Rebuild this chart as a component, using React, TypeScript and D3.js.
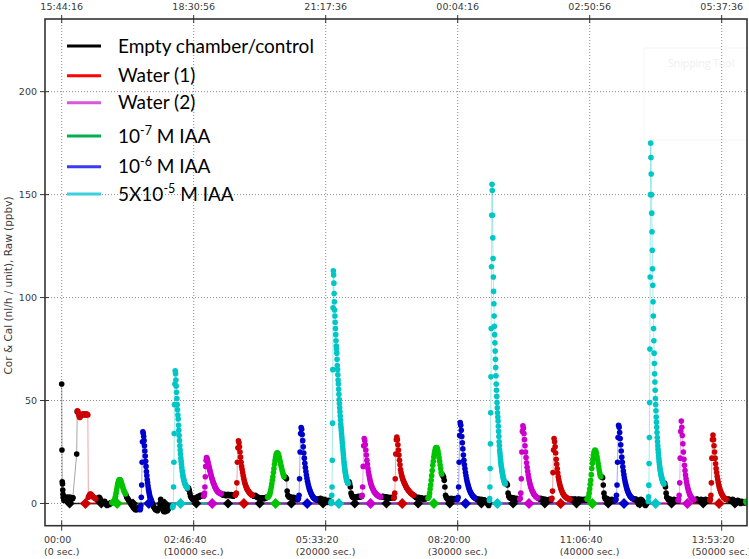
import React from 'react';
import * as d3 from 'd3';

type Seg = { t0?: number; dt?: number; t?: number[]; v: number[] };

// ---------- DATA (time in seconds, value in nl/h / ppbv) ----------
const controlSegs: Seg[] = [
  { t0: 0, dt: 20, v: [58, 26, 10.5, 9.5, 6.5, 4.5, 3, 2.5, 2, 1.5, 2.5, 3, 2.5, 2, 1.5, 2, 2.5, 3, 2.5, 2, 2.5, 3, 2.8, 2.2, 2, 2.5, 3, 2.5, 2, 2.6, 3, 2.4, 2, 2.5, 3, 2.6, 2.2, 2.5, 2.8, 2.4, 2.2, 2.5, 2.8] },
  { t: [840, 1136, 1175], v: [2.8, 24, 44.5] },
  { t0: 2600, dt: 60, v: [2.5, 2, 1.5, 2, 3, 2.5, 1.5, 1, 0.5, 0, 0.5, 1, 0, -0.5, -1, -0.5, 0, -0.5, 0, 0.5, 0.3] },
  { t0: 4880, dt: 50, v: [4, 3, 2.5, 2, 1.5, 1, 0.5, 0, -0.5, -1, -1.5, -2, -2.5, -2.5, -3, -2.5, -3, -2.5, -2, -2.5, -2] },
  { t0: 6850, dt: 50, v: [0.5, -0.5, -1.5, -2, -2.5, -3, -2.5, -3, -3.5, -3, -2.5, -2, 0, 2, 1, -1, -2.5, -3.5, -4, -3.5, -4, -3.5, -3, -3.5, -3, -2.5, -2, -1.5] },
  { t0: 9560, dt: 50, v: [7, 7.5, 6.5, 5, 3.5, 3, 2.5, 2, 2.5, 2, 1.5, 2, 2.5, 3, 2.5, 3, 3.5, 3, 3.5, 4, 3.5, 4] },
  { t0: 12100, dt: 50, v: [4.7, 4.5, 4.2, 4, 4.3, 4.5, 4, 3.8, 4, 4.2, 4.5, 4.2, 4, 3.8, 4, 4.3, 4, 3.7, 3.5, 4, 4.2] },
  { t0: 14470, dt: 50, v: [4, 3.8, 3.5, 3.7, 4, 3.5, 3.2, 3, 2.8, 3, 2.5, 2.8, 2.5, 2.2, 2.5, 2.8, 2.5, 2.2, 2.5, 2.8, 3, 2.8, 3] },
  { t0: 16880, dt: 50, v: [13, 12.8, 12.5, 12, 6, 4, 3.5, 3, 3.2, 3, 2.8, 3, 2.5, 2.8, 3, 2.5, 2.2, 2.5, 2, 2.2, 2] },
  { t0: 19260, dt: 50, v: [2, 1.8, 2.2, 2, 1.5, 1.8, 2.2, 2.5, 2, 1.5, 1, 1.5, 2, 1.8, 1.5, 1.2, 1.5, 1, 0.5, 1, 1.5, 1] },
  { t0: 21720, dt: 50, v: [10, 10.5, 9.5, 8, 5, 4, 3.2, 3, 2.8, 3, 3.2, 3, 2.8, 3, 3.2, 3.5, 3.3, 3, 3.2, 3.5, 3.4] },
  { t0: 24200, dt: 50, v: [3.2, 3, 3.3, 3.5, 3.2, 3, 2.8, 3, 3.2, 3, 2.7, 2.5, 2.8, 3, 2.7, 2.5, 2.8, 3, 2.6, 2.5] },
  { t0: 26700, dt: 50, v: [3.8, 3.5, 3.2, 3, 2.8, 2.5, 2.8, 3, 2.5, 2.2, 2.5, 2.8, 2.5, 2.2, 2, 2.3, 2.5, 2.2, 2.4, 2.6, 2.5] },
  { t0: 28830, dt: 50, v: [14, 13.5, 12.8, 11.3, 8, 4, 3, 2.5, 2, 2.5, 2.2, 2, 1.8, 2.2, 2.5, 2, 1.8, 2, 2.2, 2.4, 2, 2.2, 2] },
  { t0: 31350, dt: 50, v: [2.5, 2.2, 2, 1.8, 2, 2.2, 1.8, 1.5, 1.8, 2, 1.5, 1.2, 1.5, 1.8, 1.5, 1, 0.8, 0.5, 0, -0.5, -1, 0.5] },
  { t0: 33620, dt: 50, v: [10, 9.8, 9.5, 9, 5, 3.5, 3, 2.5, 3, 2.5, 2.2, 2.5, 2.8, 2.5, 2.2, 2, 2.3, 2.5, 2.2, 2, 2.2] },
  { t0: 36100, dt: 50, v: [2.5, 2.4, 2.2, 2, 2.5, 2.2, 1.8, 2, 2.2, 1.8, 1.5, 2, 1.8, 1.5, 1.2, 1.5, 1.8, 2, 1.7, 1.5] },
  { t0: 38540, dt: 50, v: [2, 1.8, 2, 2.2, 1.8, 1.5, 2, 2.2, 2, 1.8, 1.5, 1.8, 2, 2.2, 1.8, 1.5, 1.8, 2, 1.7, 1.5, 1.8, 2, 1.8, 1.6, 2] },
  { t0: 40880, dt: 50, v: [13, 12.8, 12.5, 9, 5, 3, 2.2, 2, 2.5, 2, 1.5, 2, 1.8, 1.5, 1.2, 1.5, 2, 1.8, 1.5, 1.2, 1.5] },
  { t0: 43270, dt: 50, v: [2.4, 2.2, 2, 1.8, 2.2, 2, 1.5, 1, 0, -0.5, 0.5, 1.5, 2, 1.8, 1.5, 1, 0.5, 0, -0.5, -1, -0.5, 0, 0.5] },
  { t0: 45640, dt: 50, v: [10, 9.5, 8, 5, 3, 2.6, 2, 1.8, 2, 2.2, 1.8, 1.5, 1, 1.5, 1.8, 2, 1.6, 1.2, 1.5, 1.8, 1.5, 1.2] },
  { t0: 47940, dt: 50, v: [1.8, 1.6, 1.5, 2, 2.2, 1.8, 1.5, 1.2, 1.5, 1.8, 2, 1.8, 1.5, 1.2, 1, 1.5, 1.8, 2, 1.8, 1.5, 1.2, 1.5, 1.8, 1.5] },
  { t0: 50380, dt: 50, v: [2, 1.8, 2, 2.2, 1.8, 1.5, 1.2, 1.5, 1.8, 2, 1.6, 1.3, 1, 0.5, 0, 0.5, 1, 1.5, 1.2, 1, 0.5, 0, 0.5, 1, 0.8, 0.5, 0.2, 0.5, 0.8, 0.5, 0.3] },
];

const water1Segs: Seg[] = [
  { t0: 1180, dt: 40, v: [45, 44.8, 44, 43, 42, 41.8, 42.3, 43, 43.2, 43, 43.3, 43.5, 43, 43.2, 43.4, 43, 43.2, 43.5, 43, 43.3, 43, 3, 3.5, 4, 4.5, 4.6, 4.4, 4, 3.8, 3.5, 3.2, 3, 2.8, 2.5, 2.5, 2.2] },
  { t0: 13150, dt: 40, v: [4, 4.5, 5, 10, 20, 27, 30.4, 29.5, 27.5, 25, 22.5, 20, 18, 16.5, 15, 13.5, 12.2, 11, 10, 9.2, 8.5, 7.8, 7.2, 6.7, 6.3, 5.9, 5.5, 5.2, 4.9, 4.6, 4.4, 4.2, 4] },
  { t0: 25150, dt: 40, v: [2.5, 3, 5, 12, 24, 31, 32.3, 31, 28.5, 26, 23.5, 21, 18.8, 16.5, 15, 13.8, 12.8, 12, 11.3, 10.6, 10, 9.4, 8.9, 8.4, 7.9, 7.4, 7, 6.6, 6.3, 6, 5.7, 5.4, 5.1, 4.9, 4.7, 4.5, 4.3, 4.1, 4] },
  { t0: 37100, dt: 40, v: [2, 2.5, 6, 15, 26, 31.5, 30, 27.5, 24.5, 21.5, 19, 16.8, 14.8, 13, 11.5, 10.2, 9.1, 8.1, 7.2, 6.5, 5.8, 5.2, 4.7, 4.3, 3.9, 3.6, 3.3, 3.1, 2.9, 2.7, 2.5, 2.4, 2.3, 2.2, 2.1, 2] },
  { t0: 49100, dt: 40, v: [1.5, 2, 4, 10, 22, 31, 33.2, 31, 28, 25, 22, 19.3, 17, 15, 13.2, 11.6, 10.2, 9, 7.9, 7, 6.2, 5.5, 4.9, 4.4, 3.9, 3.5, 3.1, 2.8, 2.5, 2.3, 2.1, 2] },
];

const water2Segs: Seg[] = [
  { t0: 10760, dt: 30, v: [3.5, 4, 5, 8, 13, 18, 21, 22.3, 22, 21.3, 20.5, 19.7, 18.8, 18, 17.2, 16.4, 15.6, 14.8, 14, 13.3, 12.6, 12, 11.4, 10.8, 10.2, 9.7, 9.2, 8.7, 8.2, 7.8, 7.4, 7, 6.7, 6.4, 6.1, 5.9, 5.7, 5.5, 5.3, 5.2, 5.1, 5, 4.9, 4.8, 4.7] },
  { t0: 22720, dt: 40, v: [3.5, 4, 8, 18, 28, 31.5, 30.5, 28.5, 26, 23.5, 21, 19, 17, 15.3, 13.8, 12.4, 11.2, 10.1, 9.2, 8.4, 7.7, 7.1, 6.6, 6.1, 5.7, 5.3, 5, 4.7, 4.4, 4.2, 4, 3.8, 3.6, 3.5, 3.4, 3.3, 3.2] },
  { t0: 34700, dt: 40, v: [2, 2.5, 5, 12, 25, 35, 37.7, 36.5, 34, 31, 28, 25, 22.3, 19.8, 17.6, 15.6, 13.9, 12.4, 11.1, 9.9, 8.9, 8, 7.2, 6.5, 5.9, 5.4, 4.9, 4.5, 4.1, 3.8, 3.5, 3.2, 3, 2.8, 2.6] },
  { t0: 46700, dt: 40, v: [1.5, 2, 4, 10, 22, 35, 40, 37, 33, 29, 25, 21.5, 18.5, 16, 13.8, 12, 10.4, 9, 7.8, 6.8, 5.9, 5.1, 4.4, 3.8, 3.3, 2.9, 2.6, 2.3, 2.1, 1.9, 1.8] },
];

const iaa7Segs: Seg[] = [
  { t0: 3800, dt: 40, v: [0.5, 0.3, 0.5, 0.8, 1, 1.5, 2.5, 3.5, 5, 6.5, 8, 9.3, 10.3, 11, 11.5, 11.6, 11.4, 11, 10.2, 9.3, 8.5, 7.6, 6.8, 6, 5.5, 5, 4.6] },
  { t0: 15600, dt: 40, v: [3, 3.2, 3.5, 4, 4.5, 5.5, 6.5, 8, 9.5, 11.3, 13, 15, 17, 19, 20.8, 22.3, 23.5, 24.2, 24.6, 24.5, 24, 23.3, 22.3, 21.2, 20, 18.8, 17.8, 16.7, 15.6, 14.6, 13.8, 13] },
  { t0: 27750, dt: 40, v: [2.5, 3, 3.5, 5, 7, 9, 11.3, 13.5, 16, 18.5, 20.5, 22.6, 24.2, 25.5, 26.5, 27, 27.2, 27, 26.3, 25.2, 23.8, 22.2, 20.5, 18.7, 16.8, 15, 14.3] },
  { t0: 39800, dt: 40, v: [2, 2.3, 2.8, 3.5, 5, 7, 9.2, 11.3, 14, 17, 19.5, 21.5, 23.3, 24.6, 25.5, 25.9, 25.7, 25, 24, 22.6, 21, 19.4, 17.8, 16.2, 14.7, 13.5, 13] },
  { t0: 51830, dt: 40, v: [1, 0.5, 0.8] },
];

const iaa6Segs: Seg[] = [
  { t0: 5940, dt: 30, v: [-3, -2.5, -1, 3, 9, 20, 30, 34.8, 34, 32.5, 30.5, 28, 25.5, 23, 20.5, 18, 15.5, 13.5, 11.5, 10, 8.5, 7, 6, 5, 4, 3, 2.5, 2, 1.5, 1] },
  { t0: 17900, dt: 40, v: [2, 2.5, 4, 12, 25, 34, 36.9, 36, 33.5, 30.5, 27.5, 24.5, 22, 19.5, 17.5, 15.5, 13.8, 12.2, 10.8, 9.6, 8.5, 7.5, 6.7, 6, 5.3, 4.7, 4.2, 3.7, 3.3, 3, 2.7, 2.4, 2.2, 2] },
  { t0: 29950, dt: 40, v: [2, 2, 3, 8, 20, 33, 39.3, 38, 35.5, 32.5, 29.5, 26.5, 23.5, 21, 18.8, 16.8, 15, 13.4, 12, 10.8, 9.7, 8.7, 7.8, 7, 6.3, 5.7, 5.2, 4.7, 4.3, 3.9, 3.6, 3.3, 3, 2.8, 2.6] },
  { t0: 41950, dt: 40, v: [1.5, 2, 4, 9, 20, 32, 38, 37, 34.5, 31.5, 28.5, 25.5, 22.5, 20, 17.8, 15.8, 14, 12.4, 11, 9.8, 8.7, 7.7, 6.8, 6.1, 5.4, 4.8, 4.3, 3.9, 3.5, 3.2, 2.9, 2.6, 2.4] },
];

const iaa5Segs: Seg[] = [
  { t0: 8400, dt: 25, v: [-2, -1.5, -1, 8, 20, 34, 48, 58, 64.4, 63, 60, 57, 54, 51, 48, 45.5, 43, 41, 38, 35.5, 33, 30.5, 28, 26, 24, 22, 20.5, 19, 17.5, 16, 15, 14, 13, 12.2, 11.5, 10.9, 10.3, 9.8, 9.4, 9, 8.7, 8.4, 8.1, 7.9, 7.7, 7.5] },
  { t0: 20400, dt: 20, v: [0.5, 0, 1, 4, 8, 21, 39, 65, 95, 113, 111, 107, 102, 98, 94, 91, 88, 85, 82, 79, 76.5, 75, 73, 70, 67, 65, 62.5, 60, 58, 55.5, 53, 50.5, 48.5, 46.5, 44.5, 42.5, 40.5, 38.5, 37, 35.5, 34, 32.5, 31, 29.5, 28, 26.5, 25, 23.5, 22, 20.5, 19.3, 18.2, 17.1, 16.1, 15.2, 14.4, 13.7, 13, 12.4, 11.8, 11.3, 10.9, 10.5, 10.2, 9.9, 9.7] },
  { t0: 32400, dt: 20, v: [1.5, 2.4, 8, 17, 29, 44, 61.5, 85, 115, 140, 155, 152, 140, 129, 119, 110, 103, 97, 91, 86, 82, 78, 74, 70, 66, 62, 58, 55, 52, 49, 46.5, 44, 42, 40, 37.5, 35, 32.5, 30, 28, 26, 24.5, 23, 21.5, 20.3, 19.2, 18.2, 17.3, 16.4, 15.6, 14.8, 14.1, 13.4, 12.8, 12.2, 11.7, 11.2, 10.8, 10.4, 10, 9.7, 9.5] },
  { t0: 44440, dt: 20, v: [1, 3.2, 8.9, 19.4, 32, 49, 75, 110, 150, 175, 168, 160, 150, 141, 132, 123, 114, 106, 98, 91, 85, 79, 73, 68, 63, 59, 55, 51, 48, 45, 42, 39.5, 37, 34.5, 32, 30, 28, 26.3, 24.7, 23.2, 21.8, 20.5, 19.3, 18.2, 17.2, 16.3, 15.5, 14.7, 14, 13.4, 12.8, 12.3, 11.8, 11.4, 11, 10.6, 10.3, 10, 9.7, 9.5] },
];

// calibrated zero markers (diamonds at 0)
const controlMarks = [600, 3000, 5400, 7800, 10200, 12600, 15000, 17400, 19800, 22200, 24600, 27000, 29400, 31800, 34200, 36600, 39000, 41400, 43800, 46200, 48600, 51000];
const water1Marks = [1800, 13800, 25800, 37800, 49800];
const water2Marks = [11400, 23400, 35400, 47400];
const iaa7Marks = [4200, 16200, 28200, 40200];
const iaa6Marks = [6600, 18600, 30600, 42600];
const iaa5Marks = [9000, 21000, 33000, 45000];

const xTicks = [0, 10000, 20000, 30000, 40000, 50000];
const xTickClock = ['00:00', '02:46:40', '05:33:20', '08:20:00', '11:06:40', '13:53:20'];
const xTickSec = ['(0 sec.)', '(10000 sec.)', '(20000 sec.)', '(30000 sec.)', '(40000 sec.)', '(50000 sec.)'];
const topTickLabels = ['15:44:16', '18:30:56', '21:17:36', '00:04:16', '02:50:56', '05:37:36'];
const yTicks = [0, 50, 100, 150, 200];

const legendLabels: string[][] = [
  ['Empty chamber/control'],
  ['Water (1)'],
  ['Water (2)'],
  ['10', '-7', ' M IAA'],
  ['10', '-6', ' M IAA'],
  ['5X10', '-5', ' M IAA'],
];

// ---------- STYLE ----------
const dotColors = ['#000000', '#cc0000', '#cc00cc', '#00c400', '#0000cc', '#00c6c6'];
const legendColors = ['#000000', '#ff0000', '#d957d9', '#00b050', '#3a3af0', '#3ccfe0'];
const legendY = [46, 75.7, 102.7, 136, 166.7, 194];

const DV: Record<string, number> = { ':': 0.337, '(': 0.39, ')': 0.39, ' ': 0.318, s: 0.521, e: 0.615, c: 0.55, '.': 0.318 };
const textW = (s: string, fs: number) =>
  s.split('').reduce((a, ch) => a + (/[0-9]/.test(ch) ? 0.636 : DV[ch] ?? 0.6), 0) * fs;

const ptsOf = (s: Seg): [number, number][] =>
  s.t ? s.t.map((t, i) => [t, s.v[i]] as [number, number]) : s.v.map((v, i) => [(s.t0 as number) + i * (s.dt as number), v] as [number, number]);

export default function App() {
  const W = 749, H = 559;
  const L = 45, R = 747, T = 19, B = 525.7;
  const x = d3.scaleLinear().domain([-1265, 51917]).range([L, R]);
  const y = d3.scaleLinear().domain([-10.8, 235.3]).range([B, T]);
  const line = d3.line<[number, number]>().x((d) => x(d[0])).y((d) => y(d[1]));

  const allSegs = [controlSegs, water1Segs, water2Segs, iaa7Segs, iaa6Segs, iaa5Segs];
  const allMarks = [controlMarks, water1Marks, water2Marks, iaa7Marks, iaa6Marks, iaa5Marks];
  const zeroOrder = [0, 1, 3, 4, 5, 2];
  const tickFs = 9.5;
  const diamond = (cx: number, cy: number, h: number) => `M${cx},${cy - h}L${cx + h},${cy}L${cx},${cy + h}L${cx - h},${cy}Z`;

  return (
    <svg width={W} height={H} viewBox={`0 0 ${W} ${H}`} style={{ position: 'absolute', left: 0, top: 0 }} fontFamily="'DejaVu Sans', sans-serif">
      <rect x={0} y={0} width={W} height={H} fill="#ffffff" />
      <defs>
        <clipPath id="plotClip">
          <rect x={L} y={T} width={R - L} height={B - T} />
        </clipPath>
      </defs>

      {/* faint watermark */}
      <g opacity={0.5}>
        <rect x={644} y={48} width={110} height={92} fill="none" stroke="#f0f0f0" />
        <text x={668} y={67} fontSize={10.5} fill="#e2e2e2" fontFamily="'Open Sans', sans-serif">Snipping Tool</text>
      </g>

      {/* grid */}
      <g stroke="#8c8c8c" strokeWidth={1} strokeDasharray="1,2">
        {xTicks.map((t) => (
          <line key={'gx' + t} x1={x(t)} x2={x(t)} y1={T} y2={B} />
        ))}
        {yTicks.map((v) => (
          <line key={'gy' + v} x1={L} x2={R} y1={y(v)} y2={y(v)} />
        ))}
      </g>

      <g clipPath="url(#plotClip)">
        {/* zero lines of calibrated series */}
        {zeroOrder.map((si) => {
          const m = allMarks[si];
          return (
            <line key={'z' + si} x1={x(m[0])} x2={x(m[m.length - 1])} y1={y(0)} y2={y(0)} stroke={dotColors[si]} strokeWidth={1.4} opacity={0.85} />
          );
        })}
        {/* raw series */}
        {allSegs.map((segs, si) => (
          <g key={'s' + si}>
            {segs.map((seg, k) => {
              const p = ptsOf(seg);
              return (
                <g key={k}>
                  <path d={line(p) || ''} fill="none" stroke={dotColors[si]} strokeOpacity={0.35} strokeWidth={1} />
                  {p.map((d, i) => (
                    <circle key={i} cx={x(d[0])} cy={y(d[1])} r={2.8} fill={dotColors[si]} />
                  ))}
                </g>
              );
            })}
          </g>
        ))}
        {/* diamonds */}
        {zeroOrder.map((si) => (
          <g key={'d' + si}>
            {allMarks[si].map((t, i) => (
              <path key={i} d={diamond(x(t), y(0), si === 0 ? 5 : 5.5)} fill={dotColors[si]} />
            ))}
          </g>
        ))}
      </g>

      {/* frame */}
      <rect x={L} y={T} width={R - L} height={B - T} fill="none" stroke="#333" strokeWidth={1.6} />

      {/* ticks */}
      <g stroke="#333" strokeWidth={1}>
        {xTicks.map((t) => (
          <g key={'t' + t}>
            <line x1={x(t)} x2={x(t)} y1={B - 5} y2={B + 5} />
            <line x1={x(t)} x2={x(t)} y1={T - 4} y2={T + 4} />
          </g>
        ))}
        {yTicks.map((v) => (
          <line key={'ty' + v} x1={L - 5} x2={L + 4} y1={y(v)} y2={y(v)} />
        ))}
      </g>

      {/* tick labels */}
      <g fontSize={tickFs} fill="#3a3a3a">
        {xTicks.map((t, i) => {
          const w = Math.max(textW(xTickClock[i], tickFs), textW(xTickSec[i], tickFs));
          const x0 = x(t) - w / 2;
          return (
            <text key={'bl' + t} x={x0} y={543}>
              <tspan x={x0}>{xTickClock[i]}</tspan>
              <tspan x={x0} y={555}>{xTickSec[i]}</tspan>
            </text>
          );
        })}
        {xTicks.map((t, i) => (
          <text key={'tl' + t} x={x(t)} y={10} textAnchor="middle">{topTickLabels[i]}</text>
        ))}
        {yTicks.map((v) => (
          <text key={'yl' + v} x={37} y={y(v) + 3.5} textAnchor="end">{v}</text>
        ))}
      </g>

      {/* y label */}
      <text transform={`translate(11.5, ${285.5}) rotate(-90)`} textAnchor="middle" fontSize={10.5} fill="#3a3a3a">
        Cor &amp; Cal (nl/h / unit), Raw (ppbv)
      </text>

      {/* legend */}
      <g fontFamily="Lato, 'Open Sans', sans-serif" fontSize={19} fill="#000">
        {legendLabels.map((lab, i) => (
          <g key={'lg' + i}>
            <line x1={67} x2={101} y1={legendY[i]} y2={legendY[i]} stroke={legendColors[i]} strokeWidth={3} />
            <text x={118} y={legendY[i] + 6.5}>
              {lab.length === 1 ? (
                lab[0]
              ) : (
                <>
                  <tspan>{lab[0]}</tspan>
                  <tspan dy={-7.5} fontSize={12.5}>{lab[1]}</tspan>
                  <tspan dy={7.5}>{lab[2]}</tspan>
                </>
              )}
            </text>
          </g>
        ))}
      </g>
    </svg>
  );
}
